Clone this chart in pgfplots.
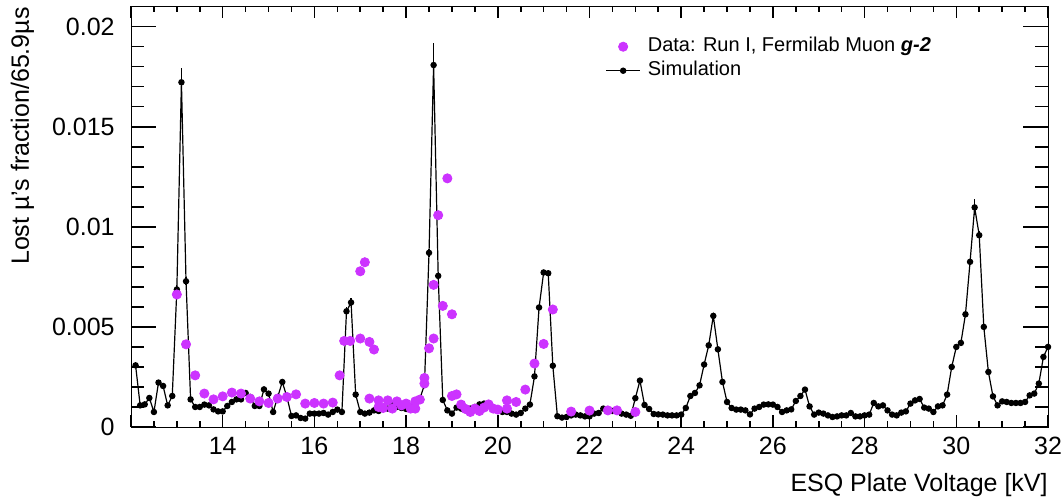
\documentclass[border=0pt]{standalone}
\usepackage{fontspec}
\setmainfont{Liberation Sans}
\usepackage{pgfplots}
\pgfplotsset{compat=1.18}
\definecolor{datamag}{RGB}{204,51,255}
\begin{document}
\begin{tikzpicture}
\useasboundingbox (-65.5pt,-36pt) rectangle (465pt,213.5pt);
\begin{axis}[
  scale only axis, width=458.5pt, height=210.5pt,
  xmin=12, xmax=32, ymin=0, ymax=0.02103,
  scaled y ticks=false,
  xtick={12,14,...,32}, xticklabels={,14,16,18,20,22,24,26,28,30,32},
  ytick=\empty,
  minor x tick num=3,
  major tick length=6pt, minor tick length=3pt,
  every tick/.style={black, line width=0.8pt},
  tick label style={font=\fontsize{12.5}{14}\selectfont},
  /pgf/number format/assume math mode=true,
  xticklabel style={inner sep=0pt, anchor=north, yshift=-5pt},
]
\end{axis}
\begin{axis}[
  scale only axis, width=458.5pt, height=210.5pt,
  xmin=12, xmax=32, ymin=0, ymax=0.02103,
  scaled y ticks=false,
  xtick=\empty,
  ytick={0,0.005,0.01,0.015,0.02}, yticklabels={0,0.005,0.01,0.015,0.02},
  minor y tick num=4,
  major tick length=12.5pt, minor tick length=6.5pt,
  every tick/.style={black, line width=0.8pt},
  tick label style={font=\fontsize{12.5}{14}\selectfont},
  /pgf/number format/assume math mode=true,
  yticklabel style={inner sep=0pt, anchor=east, xshift=-8pt},
  xlabel={ESQ Plate Voltage [kV]},
  ylabel={Lost µ's fraction/65.9µs},
  label style={font=\fontsize{12.5}{14}\selectfont},
  xlabel style={at={(axis description cs:1,0)}, anchor=base east, yshift=-32pt, inner sep=0pt},
  ylabel style={at={(axis description cs:-0.1183,0.998)}, anchor=east, inner sep=0pt},
  reverse legend,
  legend style={at={(axis description cs:0.517,0.928)}, anchor=north west, draw=none, fill=none,
    inner sep=0pt, font=\fontsize{10}{12}\selectfont, row sep=2pt, column sep=3.5pt,
    nodes={inner sep=0pt, text height=7.5pt, text depth=2.5pt}},
  legend cell align=left,
]
\addplot[black, line width=0.6pt, mark=*, mark size=1.3pt,
  error bars/.cd, y dir=both, y explicit, error mark=none,
  error bar style={line width=0.6pt, black}]
  table[x=x, y=y, y error=e] {
x y e
12.1 0.00308 0
12.2 0.00108 0
12.3 0.00113 0
12.4 0.00145 0
12.5 0.00075 0
12.6 0.00222 0
12.7 0.00205 0
12.8 0.00108 0
12.9 0.00155 0
13.0 0.00687 0.0002
13.1 0.01722 0.0007
13.2 0.00728 0.0002
13.3 0.00138 0
13.4 0.00100 0
13.5 0.00100 0
13.6 0.00112 0
13.7 0.00108 0
13.8 0.00088 0
13.9 0.00078 0
14.0 0.00078 0
14.1 0.00105 0
14.2 0.00125 0
14.3 0.00138 0
14.4 0.00138 0
14.5 0.00170 0
14.6 0.00150 0
14.7 0.00105 0
14.8 0.00105 0
14.9 0.00188 0
15.0 0.00167 0
15.1 0.00075 0
15.2 0.00150 0
15.3 0.00225 0
15.4 0.00150 0
15.5 0.00055 0
15.6 0.00058 0
15.7 0.00045 0
15.8 0.00042 0
15.9 0.00067 0
16.0 0.00067 0
16.1 0.00067 0
16.2 0.00070 0
16.3 0.00062 0
16.4 0.00075 0
16.5 0.00087 0
16.6 0.00075 0
16.7 0.00578 0.0002
16.8 0.00622 0.0002
16.9 0.00162 0
17.0 0.00075 0
17.1 0.00067 0
17.2 0.00072 0
17.3 0.00083 0
17.4 0.00080 0
17.5 0.00095 0
17.6 0.00092 0
17.7 0.00110 0
17.8 0.00100 0
17.9 0.00095 0
18.0 0.00090 0
18.1 0.00100 0
18.2 0.00110 0
18.3 0.00142 0
18.4 0.00210 0
18.5 0.00870 0.0002
18.6 0.01808 0.0011
18.7 0.00755 0.0002
18.8 0.00135 0
18.9 0.00083 0
19.0 0.00067 0
19.1 0.00097 0
19.2 0.00092 0
19.3 0.00083 0
19.4 0.00092 0
19.5 0.00100 0
19.6 0.00113 0
19.7 0.00117 0
19.8 0.00108 0
19.9 0.00097 0
20.0 0.00087 0
20.1 0.00075 0
20.2 0.00075 0
20.3 0.00067 0
20.4 0.00062 0
20.5 0.00070 0
20.6 0.00092 0
20.7 0.00112 0
20.8 0.00253 0
20.9 0.00597 0.0001
21.0 0.00772 0.0001
21.1 0.00768 0.0001
21.2 0.00306 0
21.3 0.00054 0
21.4 0.00047 0
21.5 0.00050 0
21.6 0.00058 0
21.7 0.00062 0
21.8 0.00058 0
21.9 0.00053 0
22.0 0.00053 0
22.1 0.00067 0
22.2 0.00070 0
22.3 0.00092 0
22.4 0.00087 0
22.5 0.00080 0
22.6 0.00080 0
22.7 0.00067 0
22.8 0.00062 0
22.9 0.00056 0
23.0 0.00144 0
23.1 0.00232 0
23.2 0.00110 0
23.3 0.00090 0
23.4 0.00065 0
23.5 0.00063 0
23.6 0.00062 0
23.7 0.00058 0
23.8 0.00058 0
23.9 0.00058 0
24.0 0.00062 0
24.1 0.00095 0
24.2 0.00155 0
24.3 0.00170 0
24.4 0.00208 0
24.5 0.00312 0
24.6 0.00408 0
24.7 0.00555 0.0001
24.8 0.00388 0
24.9 0.00225 0
25.0 0.00125 0
25.1 0.00095 0
25.2 0.00087 0
25.3 0.00087 0
25.4 0.00083 0
25.5 0.00063 0
25.6 0.00092 0
25.7 0.00100 0
25.8 0.00112 0
25.9 0.00113 0
26.0 0.00112 0
26.1 0.00100 0
26.2 0.00075 0
26.3 0.00083 0
26.4 0.00088 0
26.5 0.00130 0
26.6 0.00155 0
26.7 0.00187 0
26.8 0.00103 0
26.9 0.00062 0
27.0 0.00072 0
27.1 0.00067 0
27.2 0.00058 0
27.3 0.00050 0
27.4 0.00053 0
27.5 0.00058 0
27.6 0.00058 0
27.7 0.00070 0
27.8 0.00053 0
27.9 0.00053 0
28.0 0.00058 0
28.1 0.00062 0
28.2 0.00120 0
28.3 0.00103 0
28.4 0.00108 0
28.5 0.00083 0
28.6 0.00062 0
28.7 0.00058 0
28.8 0.00072 0
28.9 0.00078 0
29.0 0.00117 0
29.1 0.00133 0
29.2 0.00140 0
29.3 0.00097 0
29.4 0.00092 0
29.5 0.00075 0
29.6 0.00103 0
29.7 0.00108 0
29.8 0.00162 0
29.9 0.00300 0
30.0 0.00400 0
30.1 0.00420 0
30.2 0.00563 0
30.3 0.00825 0.0001
30.4 0.01097 0.0004
30.5 0.00958 0.0002
30.6 0.00500 0
30.7 0.00275 0
30.8 0.00153 0
30.9 0.00108 0
31.0 0.00128 0
31.1 0.00125 0
31.2 0.00120 0
31.3 0.00120 0
31.4 0.00120 0
31.5 0.00125 0
31.6 0.00158 0
31.7 0.00167 0
31.8 0.00217 0
31.9 0.00350 0
32.0 0.00400 0
};
\addlegendentry{Simulation}
\addplot[only marks, mark=*, mark size=2.3pt, color=datamag, mark options={draw=none, fill=datamag}]
  table[x=x, y=y] {
x y
13.0 0.00662
13.2 0.00413
13.4 0.00258
13.6 0.00167
13.8 0.00138
14.0 0.00153
14.2 0.00172
14.4 0.00167
14.6 0.00142
14.8 0.00128
15.0 0.00120
15.2 0.00142
15.4 0.00150
15.6 0.00163
15.8 0.00117
16.0 0.00120
16.2 0.00117
16.4 0.00122
16.55 0.00258
16.65 0.00430
16.78 0.00430
17.0 0.00442
17.0 0.00778
17.1 0.00823
17.2 0.00425
17.3 0.00387
17.2 0.00142
17.4 0.00133
17.4 0.00100
17.5 0.00095
17.6 0.00133
17.7 0.00092
17.8 0.00128
17.9 0.00108
18.0 0.00117
18.1 0.00092
18.2 0.00128
18.2 0.00092
18.3 0.00137
18.4 0.00245
18.4 0.00217
18.5 0.00393
18.6 0.00442
18.6 0.00710
18.7 0.01058
18.8 0.00605
18.9 0.01242
19.0 0.00563
19.0 0.00155
19.1 0.00163
19.2 0.00112
19.3 0.00090
19.4 0.00075
19.5 0.00092
19.6 0.00080
19.7 0.00097
19.8 0.00113
19.9 0.00092
20.0 0.00087
20.2 0.00133
20.2 0.00092
20.4 0.00125
20.6 0.00187
20.8 0.00317
21.0 0.00415
21.2 0.00587
21.6 0.00077
22.0 0.00082
22.4 0.00083
22.6 0.00083
23.0 0.00075
};
\addlegendentry{Data: Run I, Fermilab Muon \textbf{\textit{g-2}}}
\end{axis}
\end{tikzpicture}
\end{document}
